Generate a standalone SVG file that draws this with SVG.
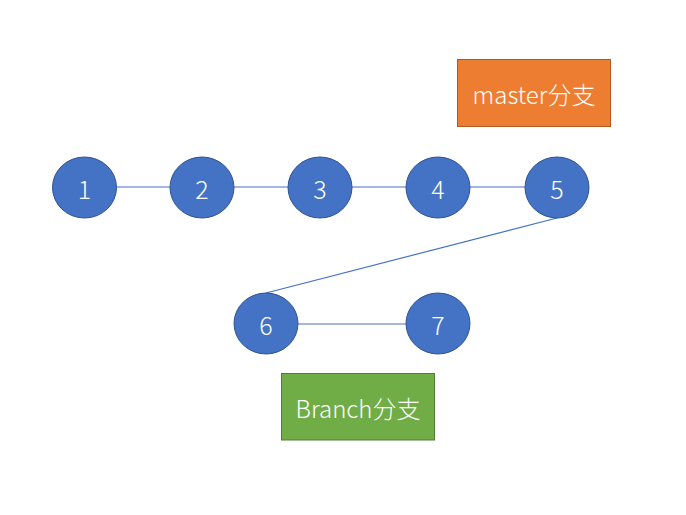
<svg xmlns="http://www.w3.org/2000/svg" width="686" height="515" viewBox="0 0 686 515">
<style>
.n{fill:#4472C4;stroke:#2F528F;stroke-width:1}
.t{fill:#fff;font-family:"Noto Sans CJK SC","Noto Sans",sans-serif;font-size:24px;font-weight:300;text-anchor:middle;dominant-baseline:central}
.d{font-size:25px}
.c{stroke:#4472C4;stroke-width:1.2;fill:none}
</style>
<rect width="686" height="515" fill="#fff"/>
<g id="connectors">
<line class="c" x1="116" y1="187" x2="170" y2="187"/>
<line class="c" x1="234" y1="187" x2="288" y2="187"/>
<line class="c" x1="352" y1="187" x2="406" y2="187"/>
<line class="c" x1="470" y1="187" x2="525" y2="187"/>
<line class="c" x1="557" y1="218" x2="266" y2="293"/>
<line class="c" x1="298" y1="324" x2="406" y2="324"/>
</g>
<g id="n1"><ellipse class="n" cx="84.5" cy="187.5" rx="32" ry="30.5"/><text class="t d" x="84.5" y="187.5">1</text></g>
<g id="n2"><ellipse class="n" cx="202" cy="187.5" rx="32" ry="30.5"/><text class="t d" x="202" y="187.5">2</text></g>
<g id="n3"><ellipse class="n" cx="320" cy="187.5" rx="32" ry="30.5"/><text class="t d" x="320" y="187.5">3</text></g>
<g id="n4"><ellipse class="n" cx="438" cy="187.5" rx="32" ry="30.5"/><text class="t d" x="438" y="187.5">4</text></g>
<g id="n5"><ellipse class="n" cx="557" cy="187.5" rx="32" ry="30.5"/><text class="t d" x="557" y="187.5">5</text></g>
<g id="n6"><ellipse class="n" cx="266" cy="323.5" rx="32" ry="30.5"/><text class="t d" x="266" y="323.5">6</text></g>
<g id="n7"><ellipse class="n" cx="438" cy="323.5" rx="32" ry="30.5"/><text class="t d" x="438" y="323.5">7</text></g>
<g id="master"><rect x="457.5" y="59.5" width="153" height="67" fill="#ED7D31" stroke="#AE5A21"/><text class="t" x="534" y="93">master分支</text></g>
<g id="branch"><rect x="281.5" y="373.5" width="153" height="66.5" fill="#70AD47" stroke="#507E32"/><text class="t" x="358" y="407">Branch分支</text></g>
</svg>
